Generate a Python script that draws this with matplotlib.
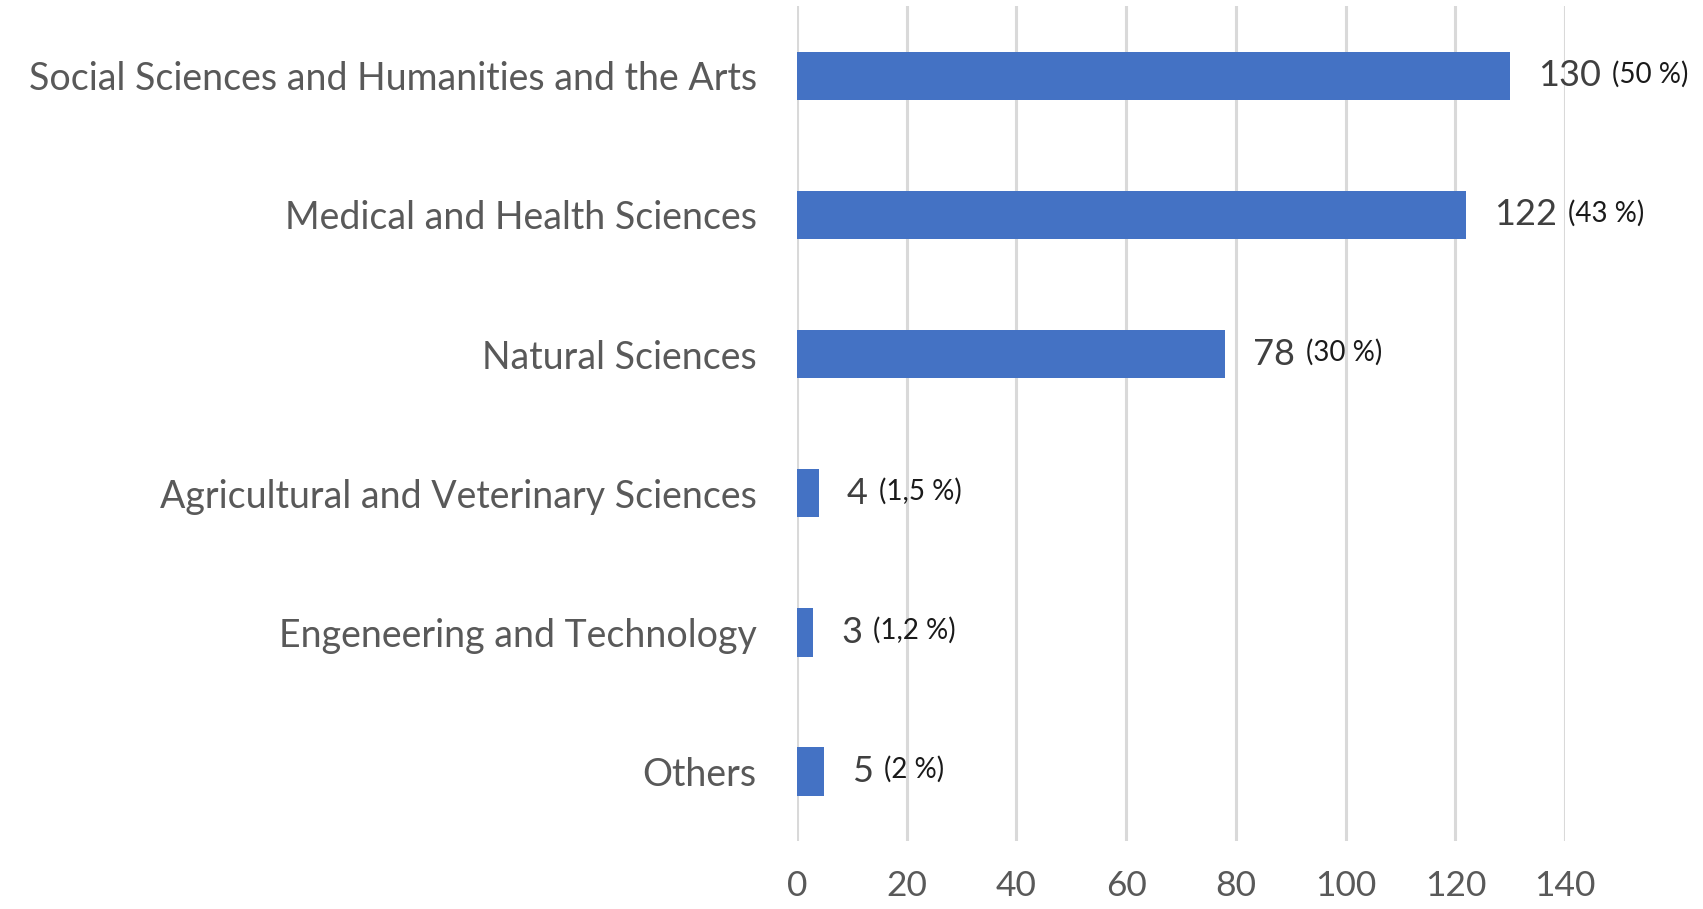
import matplotlib
matplotlib.use("Agg")
import matplotlib.pyplot as plt
import numpy as np

plt.rcParams['font.family'] = ['Lato', 'DejaVu Sans']

categories = [
    "Social Sciences and Humanities and the Arts",
    "Medical and Health Sciences",
    "Natural Sciences",
    "Agricultural and Veterinary Sciences",
    "Engeneering and Technology",
    "Others",
]
counts = [130, 122, 78, 4, 3, 5]
shares = ["(50 %)", "(43 %)", "(30 %)", "(1,5 %)", "(1,2 %)", "(2 %)"]
x_ticks = [0, 20, 40, 60, 80, 100, 120, 140]

fig = plt.figure(figsize=(17.03, 9.09), dpi=100)
ax = fig.add_axes([0.468, 0.075, 0.919 - 0.468, 0.918])

y = np.arange(len(categories))
ax.barh(y, counts, height=0.35, color='#4472C4', zorder=3)

ax.set_xlim(0, 140)
ax.set_ylim(len(categories) - 0.5, -0.5)
ax.set_xticks(x_ticks)
ax.set_yticks(y)
ax.set_yticklabels(categories)
ax.xaxis.grid(True, color='#d9d9d9', linewidth=2.2, zorder=0)
ax.tick_params(axis='x', length=0, pad=21, labelsize=25.5, labelcolor='#595959')
ax.tick_params(axis='y', length=0, pad=29, labelsize=27, labelcolor='#595959')
for s in ax.spines.values():
    s.set_visible(False)

for yi, c, pct in zip(y, counts, shares):
    t = ax.annotate(str(c), xy=(c, yi), xytext=(20, 0), textcoords='offset points',
                    ha='left', va='center', fontsize=26, color='#404040',
                    annotation_clip=False)
    ax.annotate(pct, xy=(1, 0.55), xycoords=t, xytext=(8, 0),
                textcoords='offset points', ha='left', va='center',
                fontsize=20, color='#1a1a1a', annotation_clip=False)

fig.savefig('out.png', dpi=100)
